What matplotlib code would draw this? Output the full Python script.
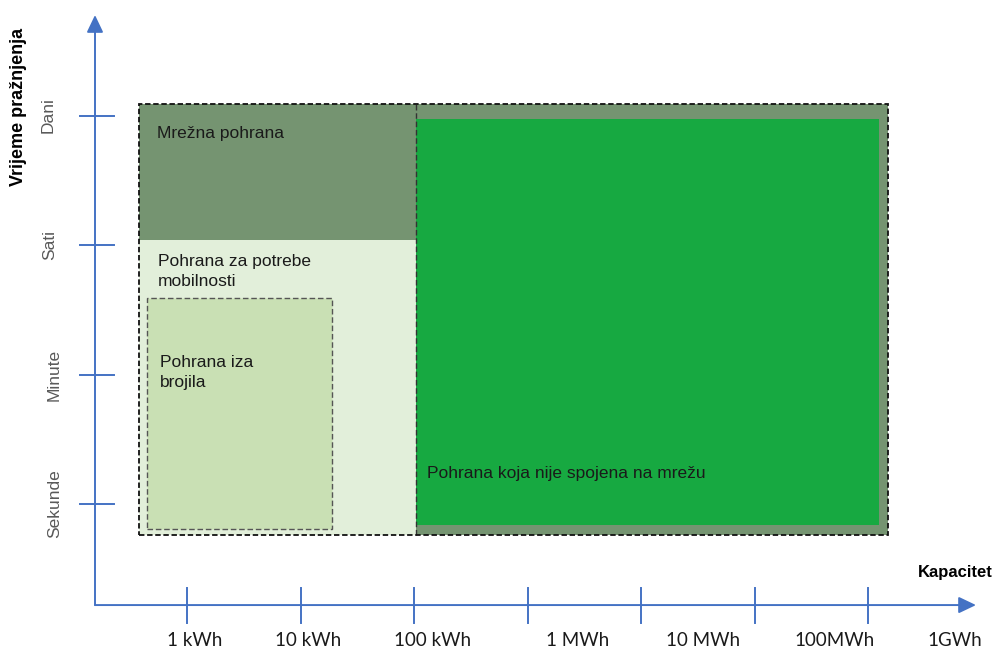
import matplotlib.pyplot as plt
from matplotlib.patches import Rectangle

# capacity axis: tick i = 10**i kWh ; duration axis: 0 = seconds ... 3 = days
cap_labels = ["1 kWh", "10 kWh", "100 kWh", "1 MWh", "10 MWh", "100MWh", "1GWh"]
cap_ticks = [0, 1, 2, 3, 4, 5, 6]
dur_labels = ["Sekunde", "Minute", "Sati", "Dani"]
dur_ticks = [0, 1, 2, 3]

# storage regions as (capacity range, duration range) in axis units
grid_x = (-0.43, 6.17)
grid_y = (-0.24, 3.09)
mobility_x = (-0.43, 2.01)
mobility_y = (-0.24, 2.04)
meter_x = (-0.36, 1.27)
meter_y = (-0.19, 1.59)
offgrid_x = (2.01, 6.09)
offgrid_y = (-0.16, 2.97)

AXIS_BLUE = "#4472C4"
TEXT = "#1a1a1a"

fig = plt.figure(figsize=(10.03, 6.5), dpi=100)
ax = fig.add_axes([0, 0, 1, 1])
ax.set_xlim(-1.651, 7.186)
ax.set_ylim(-1.127, 3.892)
ax.axis("off")


def rect(xr, yr, **kw):
    r = Rectangle((xr[0], yr[0]), xr[1] - xr[0], yr[1] - yr[0], **kw)
    ax.add_patch(r)
    return r


rect(grid_x, grid_y, facecolor="#759471", edgecolor="none", zorder=1)
rect(mobility_x, mobility_y, facecolor="#E2EFDA", edgecolor="none", zorder=2)
rect(meter_x, meter_y, facecolor="#C9E0B4", edgecolor="#555555",
     linestyle=(0, (4, 2)), linewidth=1.0, zorder=3)
rect(offgrid_x, offgrid_y, facecolor="#17A941", edgecolor="none", zorder=3)
ax.plot([offgrid_x[0], offgrid_x[0]], [mobility_y[0], grid_y[1]], color="#333333",
        linestyle=(0, (4, 2)), linewidth=1.0, zorder=4)
rect(grid_x, grid_y, facecolor="none", edgecolor="#111111",
     linestyle=(0, (3, 1.5)), linewidth=1.3, zorder=5)

font = dict(family=["Liberation Sans", "DejaVu Sans"], fontsize=12.5, color=TEXT)
ax.annotate("Mrežna pohrana", (grid_x[0], grid_y[1]), xytext=(13, -21),
            textcoords="offset points", ha="left", va="center", zorder=6, **font)
ax.annotate("Pohrana za potrebe\nmobilnosti", (mobility_x[0], mobility_y[1]), xytext=(14, -10),
            textcoords="offset points", ha="left", va="top", linespacing=1.4, zorder=6, **font)
ax.annotate("Pohrana iza\nbrojila", (meter_x[0], meter_y[1]), xytext=(10, -41),
            textcoords="offset points", ha="left", va="top", linespacing=1.4, zorder=6, **font)
ax.annotate("Pohrana koja nije spojena na mrežu", (offgrid_x[0], offgrid_y[0]), xytext=(8, 37),
            textcoords="offset points", ha="left", va="center", zorder=6, **font)

# axes with arrows
ax_x0 = -0.814
ax_y0 = -0.780
arrow = dict(arrowstyle="-|>,head_length=1.05,head_width=0.5", color=AXIS_BLUE,
             lw=1.4, shrinkA=0, shrinkB=0)
ax.annotate("", xy=(ax_x0, 3.776), xytext=(ax_x0, ax_y0), arrowprops=arrow)
ax.annotate("", xy=(6.948, ax_y0), xytext=(ax_x0, ax_y0), arrowprops=arrow)

for t in cap_ticks:
    ax.plot([t, t], [-0.649, -0.919], color=AXIS_BLUE, lw=1.4)
for t in dur_ticks:
    ax.plot([-0.947, -0.647], [t, t], color=AXIS_BLUE, lw=1.4)

cap_label_x = [0.06, 1.06, 2.16, 3.44, 4.54, 5.70, 6.76]
for lx, lab in zip(cap_label_x, cap_labels):
    ax.text(lx, -1.051, lab, ha="center", va="center", fontsize=13.5,
            family=["Lato", "DejaVu Sans"], color=TEXT)

dur_label_x = [-1.17, -1.17, -1.21, -1.23]
for lx, t, lab in zip(dur_label_x, dur_ticks, dur_labels):
    ax.text(lx, t, lab, rotation=90, ha="center", va="center", fontsize=12.5,
            family=["Liberation Sans", "DejaVu Sans"], color="#595959")

ax.text(-1.484, 3.066, "Vrijeme pražnjenja", rotation=90, ha="center", va="center",
        fontsize=13, fontweight="bold", family=["Liberation Sans", "DejaVu Sans"], color="black")
ax.text(6.763, -0.525, "Kapacitet", ha="center", va="center", fontsize=12,
        fontweight="bold", family=["Liberation Sans", "DejaVu Sans"], color="black")

fig.savefig("out.png", dpi=100, facecolor="white")
